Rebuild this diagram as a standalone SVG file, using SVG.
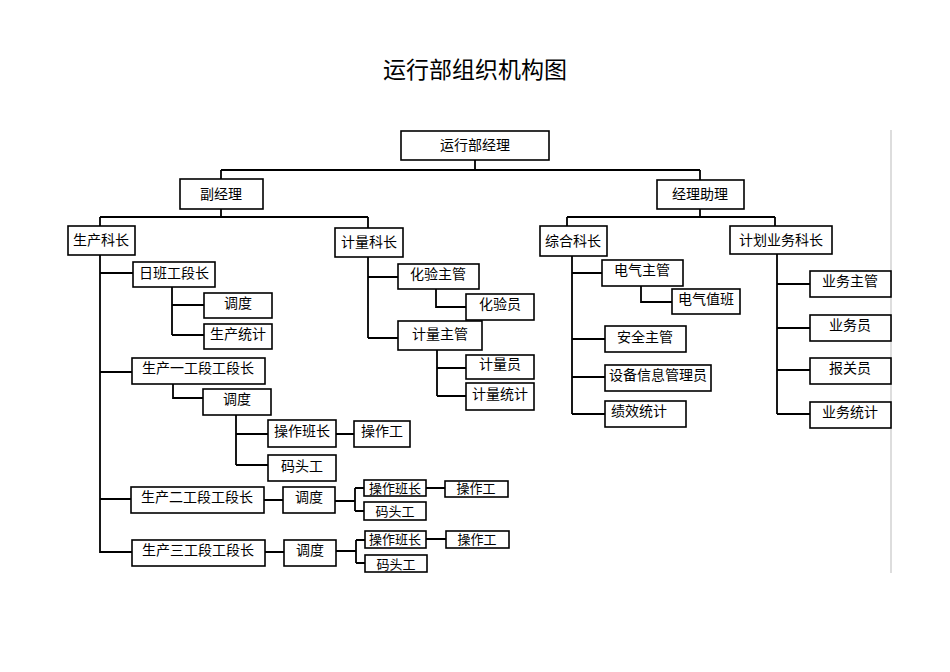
<svg xmlns="http://www.w3.org/2000/svg" width="950" height="672" viewBox="0 0 950 672">
<style>
rect{fill:#fff;stroke:#000;stroke-width:1.6}
text{font-family:"Liberation Serif","Noto Sans CJK SC",serif;font-size:14px;text-anchor:middle;dominant-baseline:central;fill:#000}
.s text{font-size:13px}
#c path{fill:none;stroke:#000;stroke-width:1.8}
</style>
<rect width="950" height="672" style="stroke:none"/>
<text x="475" y="70" style="font-size:23px">运行部组织机构图</text>
<line x1="891" y1="130" x2="891" y2="573" stroke="#bbb" stroke-width="1"/>
<g id="c">
<path d="M475 160V170M221 170H700M221 170V179M700 170V180"/>
<path d="M221 209V217M100 217H368M100 217V226M368 217V228"/>
<path d="M700 209V217M567 217H775M567 217V226M775 217V226"/>
<path d="M100 255V553M100 273H133M100 372H132M100 499H131M100 552H132"/>
<path d="M172 287V335M172 305H204M172 335H204"/>
<path d="M173 384V398H203M236 415V465M236 434H268M236 465H268M336 434H354"/>
<path d="M264 500H283M335 501H355M355 488V511M355 488H364M355 511H364M426 488H445"/>
<path d="M265 552H284M336 551H356M356 540V563M356 540H365M356 563H365M426 539H446"/>
<path d="M368 257V338M368 277H398M368 338H398M436 289V307H466M437 350V396M437 368H466M437 396H466"/>
<path d="M572 256V414M572 273H602M641 286V302H672M572 339H605M572 377H605M572 414H605"/>
<path d="M777 254V414M777 284H810M777 328H810M777 370H810M777 414H810"/>
</g>
<g id="n1"><rect x="401" y="131" width="148" height="29"/><text x="475" y="145">运行部经理</text></g>
<g id="n2"><rect x="180" y="179" width="83" height="30"/><text x="221" y="194">副经理</text></g>
<g id="n3"><rect x="657" y="180" width="87" height="29"/><text x="700" y="194">经理助理</text></g>
<g id="n4"><rect x="68" y="226" width="67" height="29"/><text x="101" y="240">生产科长</text></g>
<g id="n5"><rect x="335" y="228" width="68" height="29"/><text x="369" y="242">计量科长</text></g>
<g id="n6"><rect x="540" y="226" width="67" height="30"/><text x="573" y="241">综合科长</text></g>
<g id="n7"><rect x="730" y="226" width="102" height="28"/><text x="781" y="240">计划业务科长</text></g>
<g id="n8"><rect x="133" y="262" width="82" height="25"/><text x="174" y="273">日班工段长</text></g>
<g id="n9"><rect x="204" y="293" width="68" height="25"/><text x="238" y="303">调度</text></g>
<g id="n10"><rect x="204" y="324" width="68" height="25"/><text x="238" y="334">生产统计</text></g>
<g id="n11"><rect x="132" y="358" width="133" height="26"/><text x="198" y="368">生产一工段工段长</text></g>
<g id="n12"><rect x="203" y="389" width="68" height="26"/><text x="237" y="399">调度</text></g>
<g id="n13"><rect x="268" y="420" width="68" height="27"/><text x="302" y="431">操作班长</text></g>
<g id="n14"><rect x="354" y="421" width="56" height="26"/><text x="382" y="431">操作工</text></g>
<g id="n15"><rect x="268" y="455" width="68" height="26"/><text x="302" y="466">码头工</text></g>
<g id="n16"><rect x="131" y="487" width="133" height="26"/><text x="197" y="497">生产二工段工段长</text></g>
<g id="n17"><rect x="283" y="487" width="52" height="26"/><text x="309" y="497">调度</text></g>
<g class="s" id="n18"><rect x="364" y="480" width="62" height="16"/><text x="395" y="488">操作班长</text></g>
<g class="s" id="n19"><rect x="445" y="481" width="63" height="16"/><text x="476" y="488">操作工</text></g>
<g class="s" id="n20"><rect x="364" y="502" width="62" height="18"/><text x="395" y="511">码头工</text></g>
<g id="n21"><rect x="132" y="540" width="133" height="26"/><text x="198" y="550">生产三工段工段长</text></g>
<g id="n22"><rect x="284" y="540" width="52" height="26"/><text x="310" y="550">调度</text></g>
<g class="s" id="n23"><rect x="365" y="531" width="61" height="17"/><text x="395" y="539">操作班长</text></g>
<g class="s" id="n24"><rect x="446" y="531" width="63" height="17"/><text x="477" y="539">操作工</text></g>
<g class="s" id="n25"><rect x="365" y="555" width="62" height="17"/><text x="396" y="564">码头工</text></g>
<g id="n26"><rect x="398" y="264" width="81" height="25"/><text x="438" y="274">化验主管</text></g>
<g id="n27"><rect x="466" y="294" width="68" height="26"/><text x="500" y="304">化验员</text></g>
<g id="n28"><rect x="398" y="321" width="84" height="29"/><text x="440" y="334">计量主管</text></g>
<g id="n29"><rect x="466" y="355" width="68" height="24"/><text x="500" y="364">计量员</text></g>
<g id="n30"><rect x="466" y="383" width="68" height="27"/><text x="500" y="394">计量统计</text></g>
<g id="n31"><rect x="602" y="260" width="81" height="26"/><text x="642" y="270">电气主管</text></g>
<g id="n32"><rect x="672" y="289" width="68" height="25"/><text x="706" y="299">电气值班</text></g>
<g id="n33"><rect x="605" y="326" width="81" height="26"/><text x="645" y="337">安全主管</text></g>
<g id="n34"><rect x="605" y="365" width="106" height="26"/><text x="658" y="375">设备信息管理员</text></g>
<g id="n35"><rect x="605" y="401" width="81" height="26"/><text x="639" y="411">绩效统计</text></g>
<g id="n36"><rect x="810" y="271" width="81" height="26"/><text x="850" y="281">业务主管</text></g>
<g id="n37"><rect x="810" y="315" width="81" height="26"/><text x="850" y="325">业务员</text></g>
<g id="n38"><rect x="810" y="358" width="81" height="26"/><text x="850" y="368">报关员</text></g>
<g id="n39"><rect x="810" y="402" width="81" height="26"/><text x="850" y="412">业务统计</text></g>
</svg>
